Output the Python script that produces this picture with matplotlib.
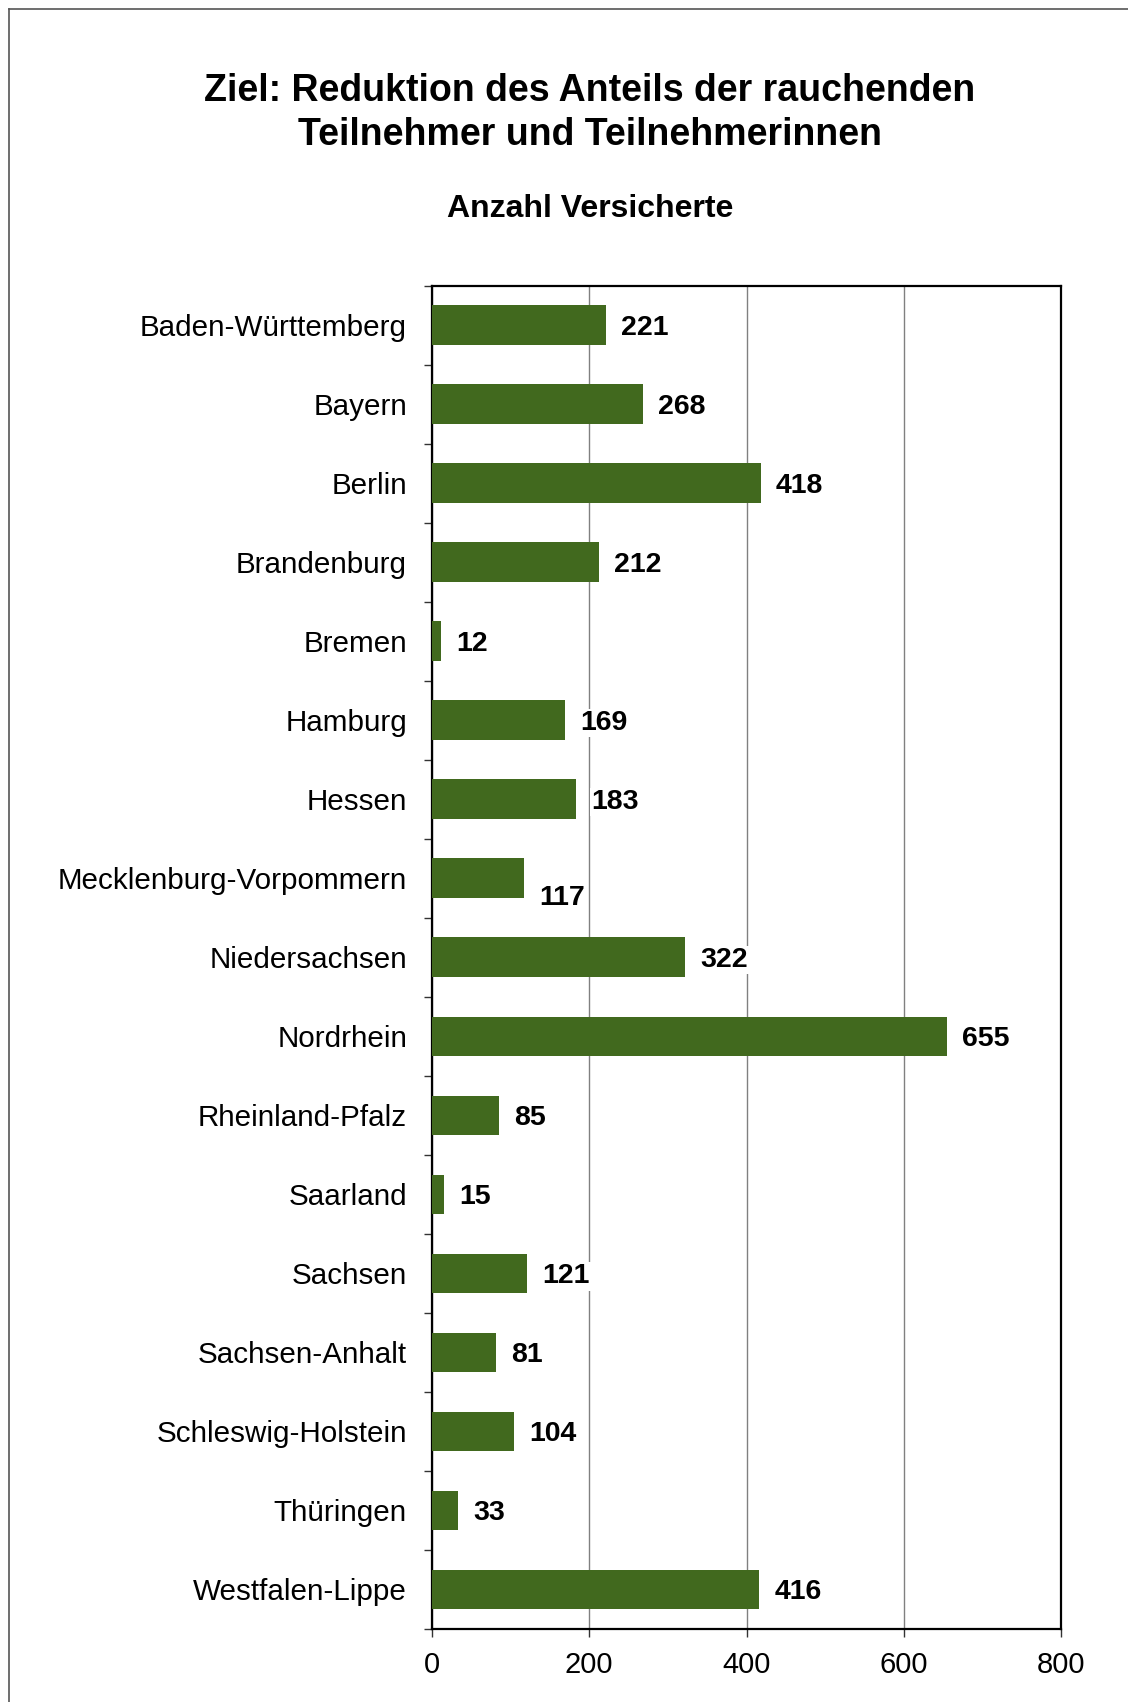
import matplotlib.pyplot as plt
from matplotlib.lines import Line2D

plt.rcParams['font.family'] = ['Liberation Sans', 'DejaVu Sans']

# Daten
laender = ['Baden-Württemberg', 'Bayern', 'Berlin', 'Brandenburg', 'Bremen',
           'Hamburg', 'Hessen', 'Mecklenburg-Vorpommern', 'Niedersachsen',
           'Nordrhein', 'Rheinland-Pfalz', 'Saarland', 'Sachsen',
           'Sachsen-Anhalt', 'Schleswig-Holstein', 'Thüringen', 'Westfalen-Lippe']
versicherte = [221, 268, 418, 212, 12, 169, 183, 117, 322, 655, 85, 15, 121,
               81, 104, 33, 416]
x_ticks = [0, 200, 400, 600, 800]

W, H = 1128, 1702
fig = plt.figure(figsize=(W / 100, H / 100), dpi=100)
ax = fig.add_axes([432 / W, 1 - 1629 / H, (1061 - 432) / W, (1629 - 285.5) / H])

pos = list(range(len(laender)))
ax.barh(pos, versicherte, height=0.5, color='#41691E', zorder=3)

ax.set_xlim(0, 800)
ax.set_ylim(len(laender) - 0.5, -0.5)
ax.set_xticks(x_ticks)
ax.set_xticklabels([str(t) for t in x_ticks], fontsize=21)
ax.set_yticks(pos)
ax.set_yticklabels(laender, fontsize=21.3)
ax.set_yticks([p - 0.5 for p in pos] + [len(laender) - 0.5], minor=True)
ax.tick_params(axis='y', which='major', length=0, pad=18)
ax.tick_params(axis='y', which='minor', length=6, width=1, color='#333333')
ax.tick_params(axis='x', length=6, width=1, pad=10, color='#333333')
ax.xaxis.grid(True, color='#808080', linewidth=1, zorder=0)
for s in ax.spines.values():
    s.set_linewidth(1.6)
    s.set_color('black')

# Werte an den Balken
for i, v in enumerate(versicherte):
    dy = -14 if laender[i] == 'Mecklenburg-Vorpommern' else -2
    ax.annotate(str(v), xy=(v, i), xytext=(11, dy), textcoords='offset points',
                ha='left', va='center', fontsize=20.5, fontweight='bold',
                bbox=dict(facecolor='white', edgecolor='none', pad=1), zorder=4)

fig.text(590 / W, 1 - 113 / H, 'Ziel: Reduktion des Anteils der rauchenden\nTeilnehmer und Teilnehmerinnen',
         ha='center', va='center', fontsize=27, fontweight='bold', linespacing=1.28)
fig.text(590 / W, 1 - 209 / H, 'Anzahl Versicherte', ha='center', va='center',
         fontsize=23, fontweight='bold')

# Rahmen
fig.add_artist(Line2D([9 / W, 1], [1 - 9 / H, 1 - 9 / H], color='#555555', lw=1.2))
fig.add_artist(Line2D([9 / W, 9 / W], [0, 1 - 9 / H], color='#555555', lw=1.2))

fig.savefig('out.png', dpi=100)
